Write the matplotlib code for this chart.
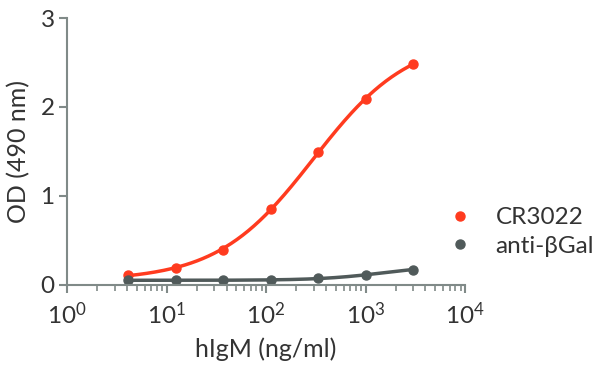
import numpy as np
import matplotlib
matplotlib.use('Agg')
import matplotlib.pyplot as plt

plt.rcParams['font.family'] = ['Lato', 'DejaVu Sans']
plt.rcParams['mathtext.default'] = 'regular'

# data
conc = [4.1, 12.3, 37, 111, 333, 1000, 3000]
cr3022 = [0.11, 0.19, 0.39, 0.85, 1.49, 2.09, 2.48]
anti_bgal = [0.05, 0.05, 0.05, 0.05, 0.07, 0.11, 0.17]

red = '#ff3b1f'
grey = '#505a5a'
axis_col = '#808a88'
text_col = '#333333'


def fit_4pl(x, y):
    # grid over ec50 and hill, bottom/top from linear least squares
    x = np.asarray(x, float)
    y = np.asarray(y, float)
    best = None
    for lec in np.linspace(0, 6, 241):
        for h in np.linspace(0.3, 2.5, 111):
            s = 1.0 / (1.0 + (10 ** lec / x) ** h)
            A = np.column_stack([np.ones_like(s), s])
            coef, *_ = np.linalg.lstsq(A, y, rcond=None)
            err = np.sum((A @ coef - y) ** 2)
            if best is None or err < best[0]:
                best = (err, lec, h, coef)
    _, lec, h, coef = best
    return lambda xx: coef[0] + coef[1] / (1.0 + (10 ** lec / xx) ** h)


fig = plt.figure(figsize=(6.16, 3.76), dpi=100)
ax = fig.add_axes([0.109, 0.243, 0.646, 0.709])

xs = np.logspace(np.log10(conc[0]), np.log10(conc[-1]), 200)
for vals, col, lab in [(cr3022, red, 'CR3022'), (anti_bgal, grey, 'anti-βGal')]:
    f = fit_4pl(conc, vals)
    ax.plot(xs, f(xs), color=col, lw=2.5, solid_capstyle='round')
    ax.plot(conc, vals, 'o', color=col, ms=6.5, label=lab)

ax.set_xscale('log')
ax.set_xlim(1, 1e4)
ax.set_ylim(0, 3)
ax.set_yticks([0, 1, 2, 3])
ax.set_xticks([1, 10, 100, 1000, 10000])
ax.set_xticklabels(['10$^{0}$', '10$^{1}$', '10$^{2}$', '10$^{3}$', '10$^{4}$'])

for s in ['top', 'right']:
    ax.spines[s].set_visible(False)
for s in ['left', 'bottom']:
    ax.spines[s].set_color(axis_col)
    ax.spines[s].set_linewidth(1.5)
ax.tick_params(which='major', colors=axis_col, width=1.5, length=6,
               labelsize=17.5, labelcolor=text_col, pad=3)
ax.tick_params(axis='x', which='major', pad=6)
ax.tick_params(which='minor', colors=axis_col, width=1.2, length=4)
ax.tick_params(axis='y', which='minor', left=False)

ax.set_xlabel('hIgM (ng/ml)', fontsize=18, color=text_col, labelpad=7)
ax.set_ylabel('OD (490 nm)', fontsize=18, color=text_col, labelpad=7)

fig.legend(loc='center left', bbox_to_anchor=(0.708, 0.383), frameon=False,
           fontsize=17.5, handlelength=2.0, handletextpad=0.45,
           labelspacing=0.3, borderpad=0, borderaxespad=0,
           labelcolor=text_col)

fig.savefig('out.png', dpi=100)
